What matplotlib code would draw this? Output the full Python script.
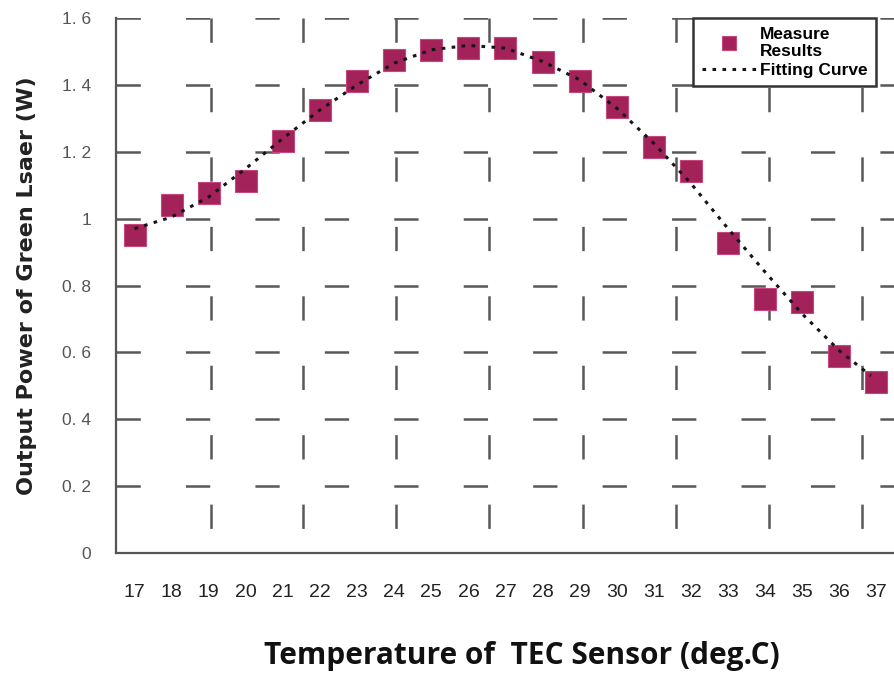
import matplotlib
matplotlib.use("Agg")
import matplotlib.pyplot as plt

# ---- data ----
temps = [17, 18, 19, 20, 21, 22, 23, 24, 25, 26, 27, 28, 29, 30, 31, 32, 33, 34, 35, 36, 37]
power = [0.951, 1.041, 1.077, 1.112, 1.232, 1.324, 1.411, 1.473, 1.503, 1.510, 1.510, 1.468,
         1.412, 1.334, 1.214, 1.141, 0.927, 0.759, 0.750, 0.589, 0.510]
fit_x = [17, 18, 19, 20, 21, 22, 23, 24, 25, 26, 27, 28, 29, 30, 31, 32, 33, 34, 35, 36, 36.85]
fit_y = [0.970, 1.005, 1.065, 1.150, 1.240, 1.325, 1.400, 1.465, 1.505, 1.518, 1.510, 1.470,
         1.415, 1.330, 1.225, 1.105, 0.970, 0.840, 0.715, 0.605, 0.530]
ytick_vals = [0, 0.2, 0.4, 0.6, 0.8, 1.0, 1.2, 1.4, 1.6]
ytick_labels = ["0", "0. 2", "0. 4", "0. 6", "0. 8", "1", "1. 2", "1. 4", "1. 6"]
vgrid_x = [19.05, 21.55, 24.05, 26.55, 29.1, 31.6, 34.1, 36.6]

plt.rcParams['lines.scale_dashes'] = False

W, H = 895, 675
fig = plt.figure(figsize=(W / 100, H / 100), dpi=100)
L, R, T, B = 116, 895, 18, 553
ax = fig.add_axes([L / W, 1 - B / H, (R - L) / W, (B - T) / H])
ax.set_xlim(16.5, 37.5)
ax.set_ylim(0, 1.6)

for s in ['top', 'right']:
    ax.spines[s].set_visible(False)
for s in ['left', 'bottom']:
    ax.spines[s].set_color('#555555')
    ax.spines[s].set_linewidth(1.6)

grid_kw = dict(color='#585858', lw=1.8, ls=(0, (17.5, 32.5)), zorder=1)
for y in ytick_vals[1:]:
    ax.axhline(y, 0, 1, **grid_kw)
for x in vgrid_x:
    ax.axvline(x, 1, 0, **grid_kw)

ax.plot(temps, power, ls='none', marker='s', ms=15.5, mfc='#a3225a', mec='#c4487a',
        mew=0.8, zorder=3, label='Measure\nResults')
ax.plot(fit_x, fit_y, ls=(0, (2.6, 4.6)), color='#151515', lw=2.2, zorder=4,
        label='Fitting Curve')

ax.set_xticks(temps)
ax.set_xticklabels([str(t) for t in temps], family=['Liberation Sans Narrow', 'Liberation Sans'],
                   fontsize=14, color='#222222')
ax.set_yticks(ytick_vals)
ax.set_yticklabels(ytick_labels, family=['Liberation Sans', 'DejaVu Sans'], fontsize=12.5,
                   color='#555555')
ax.tick_params(axis='x', length=0, pad=22)
ax.tick_params(axis='y', length=0, pad=18)

ax.set_ylabel('Output Power of Green Lsaer (W)', fontsize=16, fontweight='bold',
              family='DejaVu Sans', color='#222222', labelpad=18)
fig.text(522 / W, 1 - 656 / H, 'Temperature of  TEC Sensor (deg.C)', ha='center', va='center',
         fontsize=21.5, fontweight='bold', family='Open Sans', color='#111111')

leg = ax.legend(loc='upper left', bbox_to_anchor=(0.7407, 1.0), borderaxespad=0,
                frameon=True, fancybox=False, edgecolor='#333333', framealpha=1,
                prop={'family': 'Liberation Sans', 'weight': 'bold', 'size': 12.5},
                markerscale=0.62, handlelength=3.1, handletextpad=0.25, labelspacing=0.2,
                borderpad=0.5)
leg.get_frame().set_linewidth(1.8)
leg.set_zorder(5)

fig.savefig('out.png', dpi=100)
